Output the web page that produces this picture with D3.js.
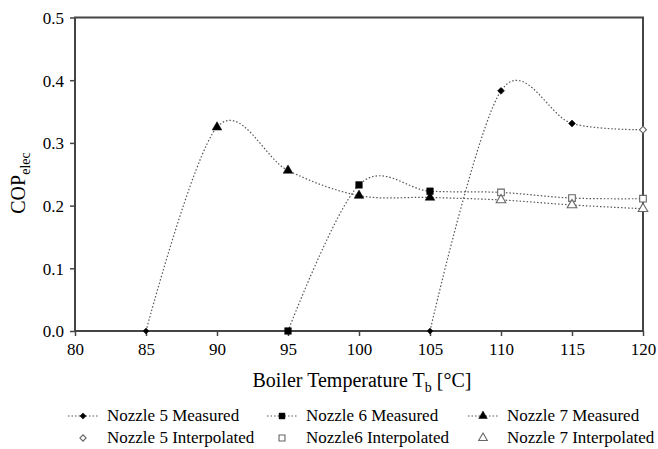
<!DOCTYPE html>
<html>
<head>
<meta charset="utf-8">
<script src="https://cdn.jsdelivr.net/npm/d3@7"></script>
<style>
  body { margin: 0; background: #fff; }
  svg text { font-family: "Liberation Serif", "Times New Roman", serif; fill: #000; }
</style>
</head>
<body>
<svg width="658" height="449"></svg>
<script>
// values
var xTicks   = [80, 85, 90, 95, 100, 105, 110, 115, 120],
    yTicks   = [0, 0.1, 0.2, 0.3, 0.4, 0.5],
    names    = ['Nozzle 5', 'Nozzle 6', 'Nozzle 7'],
    temps5   = [105, 110, 115, 120],
    cop5     = [0, 0.383, 0.331, 0.321],
    temps6   = [95, 100, 105, 110, 115, 120],
    cop6     = [0, 0.233, 0.223, 0.221, 0.212, 0.211],
    temps7   = [85, 90, 95, 100, 105, 110, 115, 120],
    cop7     = [0, 0.325, 0.256, 0.216, 0.213, 0.209, 0.201, 0.195],
    measured = [3, 3, 5],   // number of measured points, the rest are interpolated
    symbols  = ['diamond', 'square', 'triangle'],
    zeroSym  = ['diamond', 'square', 'diamond'],
    legendRows = [
      ['Nozzle 5 Measured', 'Nozzle 6 Measured', 'Nozzle 7 Measured'],
      ['Nozzle 5 Interpolated', 'Nozzle6 Interpolated', 'Nozzle 7 Interpolated']
    ];

var series = [
  { t: temps5, v: cop5 },
  { t: temps6, v: cop6 },
  { t: temps7, v: cop7 }
];

var pLeft = 75, pRight = 643, pTop = 17.5, pBottom = 331,
    svg  = d3.select('svg'),
    x    = d3.scaleLinear().domain([80, 120]).range([pLeft, pRight]),
    y    = d3.scaleLinear().domain([0, 0.5]).range([pBottom, pTop]);

var shapes = {
  diamond:  d3.symbolSquare,   // drawn rotated 45deg
  square:   d3.symbolSquare,
  triangle: d3.symbolTriangle
};
var sizes = { diamond: 24, square: 44, triangle: 40 };

function sym(name, scale) {
  return d3.symbol().type(shapes[name]).size(sizes[name] * (scale || 1))();
}
function place(name, px, py) {
  return 'translate(' + px + ',' + py + ')' + (name === 'diamond' ? ' rotate(45)' : '');
}

// curves
var line = d3.line()
  .x(function(d) { return x(d[0]); })
  .y(function(d) { return y(d[1]); })
  .curve(d3.curveCardinal.tension(0));

series.forEach(function(s, i) {
  var pts = s.t.map(function(t, j) { return [t, s.v[j]]; });
  svg.append('path')
    .attr('d', line(pts))
    .attr('fill', 'none')
    .attr('stroke', '#555')
    .attr('stroke-width', 1.2)
    .attr('stroke-dasharray', '1.5,2');
});

// frame
svg.append('rect')
  .attr('x', pLeft).attr('y', pTop)
  .attr('width', pRight - pLeft).attr('height', pBottom - pTop)
  .attr('fill', 'none')
  .attr('stroke', '#444')
  .attr('stroke-width', 2);

var xAxis = svg.append('g')
  .attr('transform', 'translate(0,' + pBottom + ')')
  .call(d3.axisBottom(x).tickValues(xTicks).tickSize(5).tickPadding(4).tickFormat(d3.format('d')));

var yAxis = svg.append('g')
  .attr('transform', 'translate(' + pLeft + ',0)')
  .call(d3.axisLeft(y).tickValues(yTicks).tickSize(5).tickPadding(6).tickFormat(d3.format('.1f')));

[xAxis, yAxis].forEach(function(a) {
  a.attr('font-size', 17);
  a.select('.domain').remove();
  a.selectAll('line').attr('stroke', '#444').attr('stroke-width', 1.5);
});
xAxis.selectAll('text').attr('dy', '0.9em');
yAxis.selectAll('text').attr('dy', '0.35em');

// markers
series.forEach(function(s, i) {
  s.t.forEach(function(t, j) {
    var isMeasured = j < measured[i],
        name = s.v[j] === 0 ? zeroSym[i] : symbols[i];
    svg.append('path')
      .attr('transform', place(name, x(t), y(s.v[j])))
      .attr('d', sym(name, s.v[j] === 0 && name === 'diamond' ? 0.7 : 1))
      .attr('fill', isMeasured ? '#000' : '#fff')
      .attr('stroke', isMeasured ? '#000' : '#666')
      .attr('stroke-width', isMeasured ? 0.5 : 1.1);
  });
});

// axis titles
var xt = svg.append('text')
  .attr('x', 362).attr('y', 387)
  .attr('text-anchor', 'middle')
  .style('font-size', '20px');
xt.append('tspan').text('Boiler Temperature T');
xt.append('tspan').attr('dy', 5).style('font-size', '14px').text('b');
xt.append('tspan').attr('dy', -5).text(' [°C]');

var yt = svg.append('text')
  .attr('transform', 'translate(25,183) rotate(-90)')
  .attr('text-anchor', 'middle')
  .style('font-size', '20px');
yt.append('tspan').text('COP');
yt.append('tspan').attr('dy', 5).style('font-size', '14px').text('elec');

// legend
var colText = [107, 306, 507],
    rowY    = [421, 443];

legendRows.forEach(function(row, r) {
  row.forEach(function(label, c) {
    var cx = colText[c] - 24, cy = rowY[r] - 5;
    if (r === 0) {
      svg.append('line')
        .attr('x1', cx - 15).attr('x2', cx + 15)
        .attr('y1', cy).attr('y2', cy)
        .attr('stroke', '#555')
        .attr('stroke-width', 1.2)
        .attr('stroke-dasharray', '1.5,2');
    }
    svg.append('path')
      .attr('transform', place(symbols[c], cx, cy))
      .attr('d', sym(symbols[c], 0.8))
      .attr('fill', r === 0 ? '#000' : '#fff')
      .attr('stroke', r === 0 ? '#000' : '#666')
      .attr('stroke-width', r === 0 ? 0.5 : 1.1);
    svg.append('text')
      .attr('x', colText[c]).attr('y', rowY[r])
      .style('font-size', '17px')
      .text(label);
  });
});
</script>
</body>
</html>
